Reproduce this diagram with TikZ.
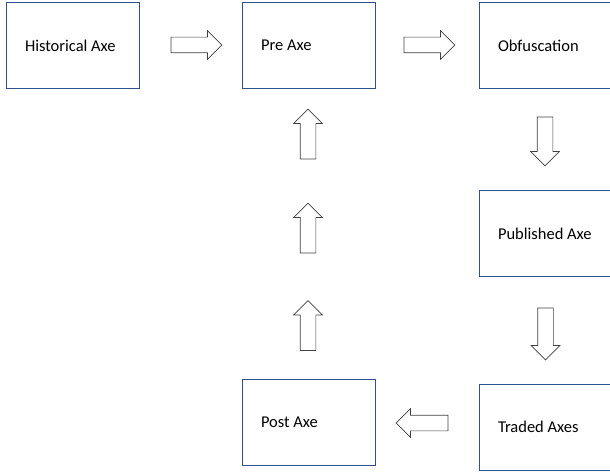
\documentclass[tikz,border=0pt]{standalone}
\usepackage{fontspec}
\setmainfont{Carlito}
\usetikzlibrary{shapes.arrows}

\begin{document}
\begin{tikzpicture}[x=1pt, y=-1pt]
    % Colours of the boxes and of the block arrows
    \definecolor{boxblue}{rgb}{0.18, 0.32, 0.56}
    \definecolor{arrowgrey}{rgb}{0.25, 0.25, 0.25}

    \tikzset{
        axebox/.style={draw=boxblue, line width=0.8pt, minimum width=133pt, minimum height=86pt,
            text width=95pt, inner xsep=19pt, align=flush left, font=\fontsize{16.5}{20}\selectfont},
        blockarrow/.style={single arrow, draw=arrowgrey, line width=0.7pt, fill=white,
            minimum height=51pt, minimum width=0pt, inner xsep=0pt, inner ysep=7.5pt,
            single arrow head extend=6.5pt, single arrow tip angle=90, single arrow head indent=0pt}
    }

    \useasboundingbox (0,0) rectangle (610,476);

    % The boxes
    \node[axebox] (hist) at (72.5,45.5) {Historical Axe};
    \node[axebox] (pre) at (308.5,45.5) {Pre Axe};
    \node[axebox] (obf) at (545.5,45.5) {Obfuscation};
    \node[axebox] (pub) at (545.5,233.5) {Published Axe};
    \node[axebox] (traded) at (545.5,427) {Traded Axes};
    \node[axebox] (post) at (308.5,422.5) {Post Axe};

    % Arrows along the top row
    \node[blockarrow] (histtopre) at (192.5,45) {};
    \node[blockarrow] (pretoobf) at (425.5,45) {};

    % Arrows down the right column
    \node[blockarrow, rotate=-90, minimum height=49pt] (obftopub) at (545,137.5) {};
    \node[blockarrow, rotate=-90, minimum height=52pt] (pubtotraded) at (545.5,330) {};

    % Arrow from the traded axes back to the post axe
    \node[blockarrow, rotate=180, minimum height=52pt] (tradedtopost) at (426,423) {};

    % Arrows up from the post axe to the pre axe
    \node[blockarrow, rotate=90, minimum height=50pt] (up1) at (308,329.5) {};
    \node[blockarrow, rotate=90, minimum height=50pt] (up2) at (308,232) {};
    \node[blockarrow, rotate=90, minimum height=50pt] (up3) at (308,138) {};

\end{tikzpicture}
\end{document}
